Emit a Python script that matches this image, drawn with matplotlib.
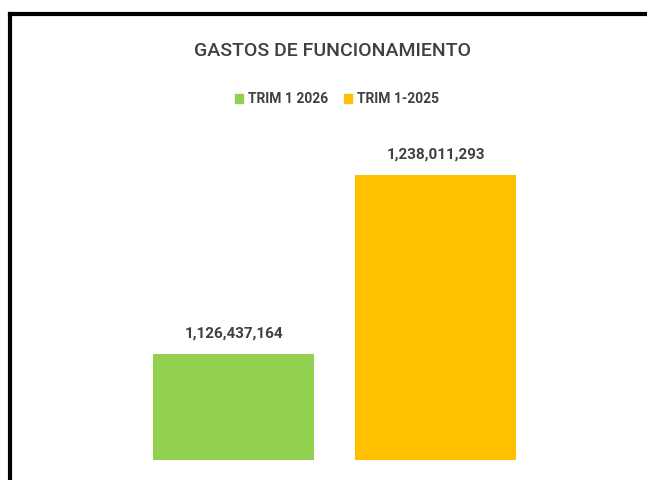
import matplotlib
matplotlib.use('Agg')
import matplotlib.pyplot as plt
from matplotlib.patches import Patch
from matplotlib.lines import Line2D

# Data
categories = ['TRIM 1 2026', 'TRIM 1-2025']
valores = [1126437164, 1238011293]
colores = ['#92D050', '#FFC000']
titulo = 'GASTOS DE FUNCIONAMIENTO'

plt.rcParams['font.family'] = ['Roboto', 'DejaVu Sans']

W, H = 647, 480
fig = plt.figure(figsize=(W / 100, H / 100), dpi=100)

# axes placed in pixel terms
x0, x1 = 132.5, 536.5
ytop, ybot = 140, 460
ax = fig.add_axes([x0 / W, 1 - ybot / H, (x1 - x0) / W, (ybot - ytop) / H])
pos = range(len(valores))
ax.bar(pos, valores, width=0.8, color=colores)
ax.set_xlim(-0.5, 1.5)
ax.set_ylim(1.06e9, 1.26e9)
ax.axis('off')

for p, v in zip(pos, valores):
    ax.annotate(f'{v:,}', (p, v), xytext=(0, 9.5), textcoords='offset points',
                ha='center', va='bottom', fontsize=11, fontweight='bold',
                color='#404040')

fig.text(333 / W, 1 - 51 / H, titulo, ha='center', va='center',
         fontsize=14, fontweight='medium', color='#404040')

handles = [Patch(color=c) for c in colores]
fig.legend(handles, categories, loc='center', bbox_to_anchor=(337 / W, 1 - 99 / H),
           ncol=2, frameon=False, handlelength=0.6, handleheight=0.6,
           handletextpad=0.35, columnspacing=1.1,
           prop={'weight': 'bold', 'size': 10}, labelcolor='#404040')

# chart border (left and top)
fig.add_artist(Line2D([10 / W, 10 / W], [0, 1 - 14 / H], color='black', lw=3,
                      transform=fig.transFigure, solid_capstyle='projecting'))
fig.add_artist(Line2D([10 / W, 1], [1 - 14 / H, 1 - 14 / H], color='black', lw=3,
                      transform=fig.transFigure, solid_capstyle='projecting'))

fig.savefig('out.png', dpi=100, facecolor='white')
